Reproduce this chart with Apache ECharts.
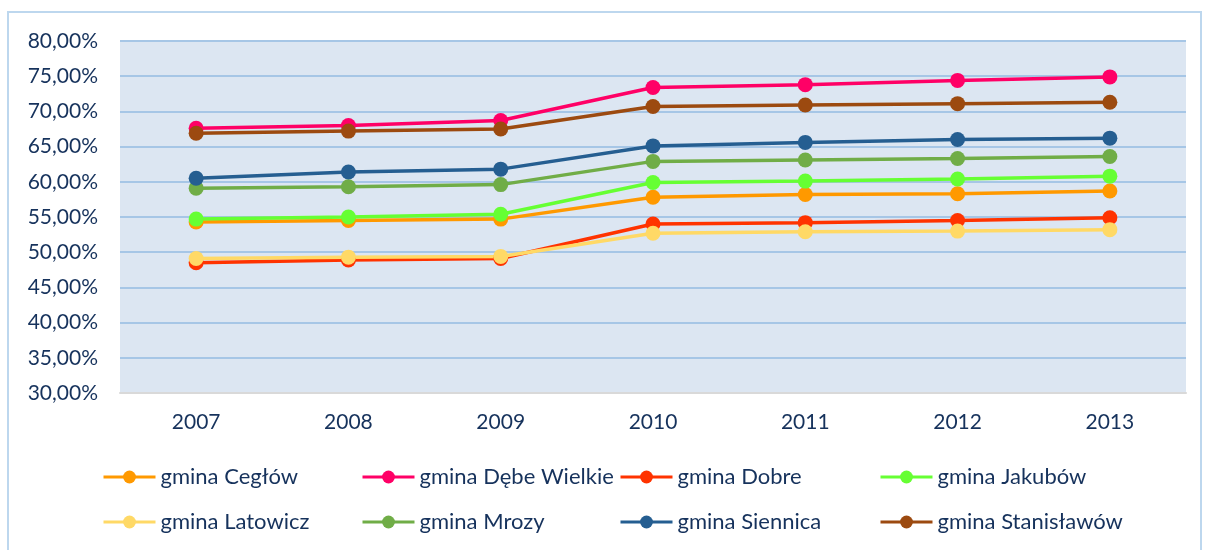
<!DOCTYPE html>
<html>
<head>
<meta charset="utf-8">
<script src="https://cdn.jsdelivr.net/npm/echarts@6/dist/echarts.min.js"></script>
<style>
  html, body { margin: 0; padding: 0; background: #fff; }
  #chart { width: 1205px; height: 550px; }
</style>
</head>
<body>
<div id="chart"></div>
<script>
var years = ['2007', '2008', '2009', '2010', '2011', '2012', '2013'];
var yTicks = [30, 35, 40, 45, 50, 55, 60, 65, 70, 75, 80];

var names = ['gmina Cegłów', 'gmina Dębe Wielkie', 'gmina Dobre', 'gmina Jakubów',
             'gmina Latowicz', 'gmina Mrozy', 'gmina Siennica', 'gmina Stanisławów'];

var ceglow      = [54.3, 54.5, 54.7, 57.8, 58.2, 58.3, 58.7];
var debeWielkie = [67.6, 68.0, 68.7, 73.4, 73.8, 74.4, 74.9];
var dobre       = [48.5, 48.9, 49.1, 54.0, 54.2, 54.5, 54.9];
var jakubow     = [54.7, 55.0, 55.4, 59.9, 60.1, 60.4, 60.8];
var latowicz    = [49.1, 49.3, 49.4, 52.7, 52.9, 53.0, 53.2];
var mrozy       = [59.1, 59.3, 59.6, 62.9, 63.1, 63.3, 63.6];
var siennica    = [60.5, 61.4, 61.8, 65.1, 65.6, 66.0, 66.2];
var stanislawow = [66.9, 67.2, 67.5, 70.7, 70.9, 71.1, 71.3];

var values = [ceglow, debeWielkie, dobre, jakubow, latowicz, mrozy, siennica, stanislawow];
var colors = ['#FF9900', '#FF0066', '#FF3300', '#66FF33', '#FFD966', '#70AD47', '#255E91', '#9C4A10'];

var textColor = '#16325C';
var font = 'Lato';

// legend: 2 rows x 4 columns, placed one by one
var legendCols = [97, 356, 614, 874];
var legendRows = [461, 506];
var legends = names.map(function (n, i) {
  return {
    data: [n],
    left: legendCols[i % 4],
    top: legendRows[Math.floor(i / 4)],
    itemWidth: 52,
    itemHeight: 16,
    itemGap: 4,
    lineStyle: { width: 3 },
    textStyle: { color: textColor, fontSize: 22, fontFamily: font }
  };
});

var chart = echarts.init(document.getElementById('chart'));
chart.setOption({
  animation: false,
  color: colors,
  graphic: [{
    type: 'rect',
    shape: { x: 8, y: 12, width: 1193, height: 560 },
    style: { fill: 'none', stroke: '#BDD7EE', lineWidth: 2 },
    silent: true
  }],
  grid: { left: 120, right: 19, top: 41, bottom: 157, show: true, backgroundColor: '#DCE6F2', borderWidth: 0 },
  legend: legends,
  xAxis: {
    type: 'category',
    data: years,
    boundaryGap: true,
    axisLine: { lineStyle: { color: '#D9D9D9', width: 2 } },
    axisTick: { show: false },
    axisLabel: { color: textColor, fontSize: 21, fontFamily: font, margin: 19 }
  },
  yAxis: {
    type: 'value',
    min: yTicks[0],
    max: yTicks[yTicks.length - 1],
    interval: yTicks[1] - yTicks[0],
    axisLine: { show: false },
    axisTick: { show: false },
    splitLine: { lineStyle: { color: '#A6C6E6', width: 2 } },
    axisLabel: {
      color: textColor, fontSize: 21, fontFamily: font, margin: 22,
      formatter: function (v) { return v.toFixed(2).replace('.', ',') + '%'; }
    }
  },
  series: names.map(function (n, i) {
    return {
      name: n,
      type: 'line',
      data: values[i],
      symbol: 'circle',
      symbolSize: 15,
      lineStyle: { width: 3.5 }
    };
  })
});
</script>
</body>
</html>
